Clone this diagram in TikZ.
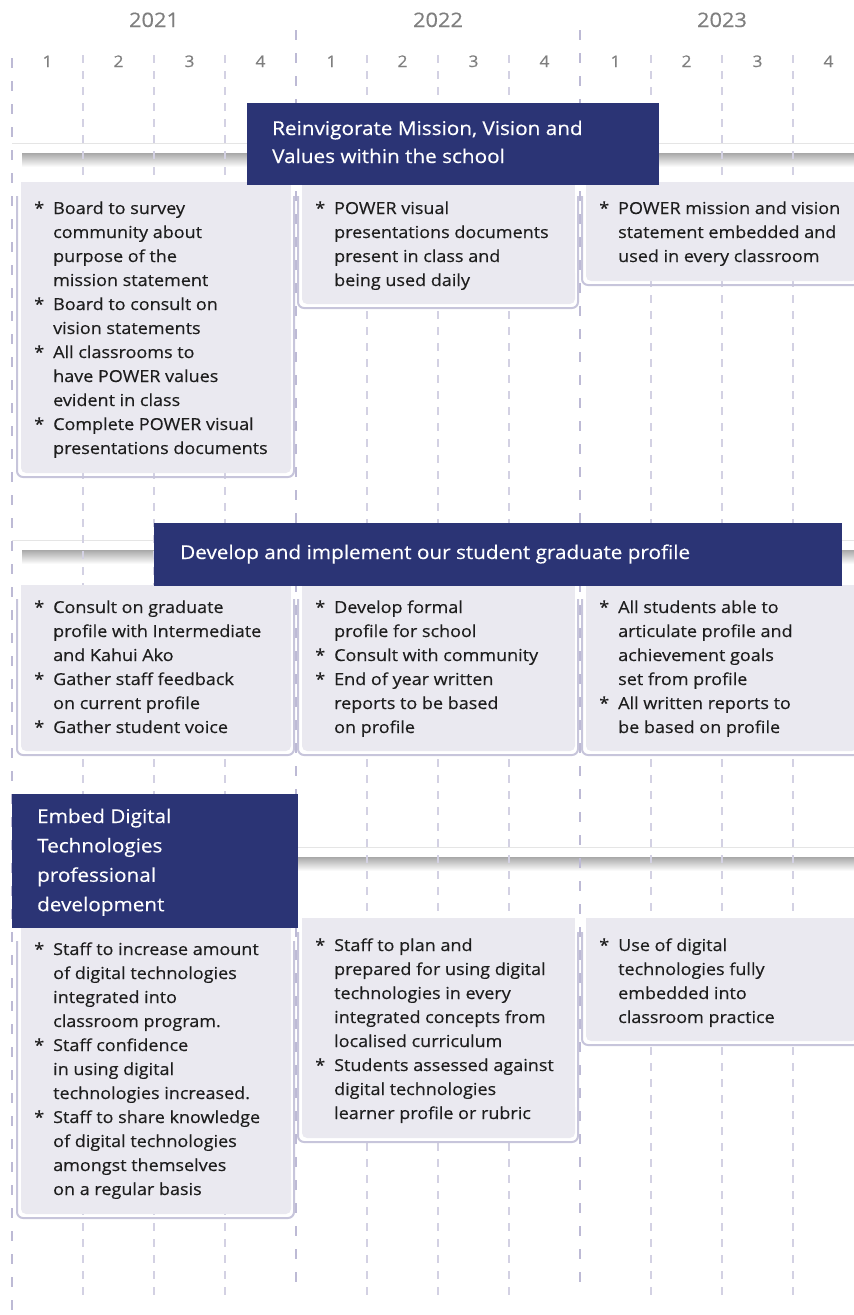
\documentclass[tikz,border=0pt]{standalone}
\usepackage{fontspec}
\setmainfont[FakeStretch=1.09, FakeBold=0.35]{Open Sans}
\definecolor{navy}{HTML}{2B3475}
\definecolor{boxfill}{HTML}{EAE9F0}
\definecolor{boxline}{HTML}{C7C5DB}
\definecolor{minordash}{HTML}{D3D1E3}
\definecolor{majordash}{HTML}{BDBAD5}
\definecolor{hdr}{HTML}{7F7F7F}
\definecolor{txt}{HTML}{1E1E1E}
\newcommand{\bul}{\llap{*\hspace{9pt}}}
\tikzset{
  yeartxt/.style={text=hdr, font=\fontsize{20}{24}\selectfont, inner sep=0, anchor=base},
  qtxt/.style={text=hdr, font=\fontsize{16}{20}\selectfont, inner sep=0, anchor=base},
  itemline/.style={anchor=base west, inner sep=0, text=txt, font=\fontsize{16.5}{24}\selectfont},
  ttl/.style={anchor=base west, inner sep=0, text=white, font=\fontsize{19}{28}\selectfont},
  titlebox/.style={fill=navy},
  minorline/.style={draw=minordash, line width=1.2pt, dash pattern=on 8pt off 8pt},
  majorline/.style={draw=majordash, line width=1.5pt, dash pattern=on 10pt off 13pt},
  bline/.style={draw=boxline, line width=2pt, rounded corners=6pt},
}
\newcommand{\tlbox}[4]{%
  \fill[boxfill] (#1+4,#2) rectangle (#3-3,#4-30);
  \fill[boxfill, rounded corners=5pt] (#1+4,#4-40) rectangle (#3-3,#4-4);
  \draw[bline] (#1,#2+14) -- (#1,#4) -- (#3,#4) -- (#3,#2+14);
}
\newcommand{\band}[3]{%
  \shade[top color=black!34, bottom color=white] (#1+10,#3+10) rectangle (#2,#3+24);
  \fill[white] (#1,#3) rectangle (#2,#3+10);
  \draw[black!10, line width=0.8pt] (#1,#3) -- (#2,#3);
}
\begin{document}
\begin{tikzpicture}[x=1pt, y=-1pt]
\useasboundingbox (0,0) rectangle (854,1315);
% bands
\band{12}{854}{143}
\band{12}{854}{540}
\band{12}{854}{847}
% grid lines
\foreach \k in {1,2,3,5,6,7,9,10,11}
  \draw[minorline] (12+71*\k,55) -- (12+71*\k,1297);
\draw[majorline] (12,58) -- (12,1315);
\draw[majorline] (296,30) -- (296,1290);
\draw[majorline] (580,30) -- (580,1290);
% headers
\node[yeartxt] (y2021) at (154,27) {2021};
\node[yeartxt] (y2022) at (438,27) {2022};
\node[yeartxt] (y2023) at (722,27) {2023};
\foreach \q [count=\i from 0] in {1,2,3,4,1,2,3,4,1,2,3,4}
  \node[qtxt] (q\i) at (47.5+71*\i,67) {\q};
% boxes
\tlbox{17}{182}{294}{477}
\tlbox{298}{182}{578}{308}
\tlbox{582}{182}{860}{285}
\tlbox{17}{585}{294}{755}
\tlbox{298}{585}{578}{755}
\tlbox{582}{585}{860}{755}
\tlbox{17}{927}{294}{1218}
\tlbox{298}{918}{578}{1142}
\tlbox{582}{918}{860}{1045}
% title boxes
\fill[titlebox] (247,103) rectangle (659,185);
\node[ttl] (t1a) at (272,135) {Reinvigorate Mission, Vision and};
\node[ttl] (t1b) at (272,163) {Values within the school};
\fill[titlebox] (154,523) rectangle (842,586);
\node[ttl] (t2a) at (180,559) {Develop and implement our student graduate profile};
\fill[titlebox] (12,794) rectangle (298,928);
\foreach \t [count=\i from 0] in {Embed Digital,Technologies,professional,development}
  \node[ttl] (t3\i) at (37,823+29.4*\i) {\t};
% row 1
\foreach \t [count=\i from 0] in {\bul Board to survey, community about, purpose of the, mission statement, \bul Board to consult on, vision statements, \bul All classrooms to, have POWER values, evident in class, \bul Complete POWER visual, presentations documents}
  \node[itemline] (ra\i) at (53,214+24*\i) {\t};
\foreach \t [count=\i from 0] in {\bul POWER visual, presentations documents, present in class and, being used daily}
  \node[itemline] (rb\i) at (334,214+24*\i) {\t};
\foreach \t [count=\i from 0] in {\bul POWER mission and vision, statement embedded and, used in every classroom}
  \node[itemline] (rc\i) at (618,214+24*\i) {\t};
% row 2
\foreach \t [count=\i from 0] in {\bul Consult on graduate, profile with Intermediate, and Kahui Ako, \bul Gather staff feedback, on current profile, \bul Gather student voice}
  \node[itemline] (sa\i) at (53,613+24*\i) {\t};
\foreach \t [count=\i from 0] in {\bul Develop formal, profile for school, \bul Consult with community, \bul End of year written, reports to be based, on profile}
  \node[itemline] (sb\i) at (334,613+24*\i) {\t};
\foreach \t [count=\i from 0] in {\bul All students able to, articulate profile and, achievement goals, set from profile, \bul All written reports to, be based on profile}
  \node[itemline] (sc\i) at (618,613+24*\i) {\t};
% row 3
\foreach \t [count=\i from 0] in {\bul Staff to increase amount, of digital technologies, integrated into, classroom program., \bul Staff confidence, in using digital, technologies increased., \bul Staff to share knowledge, of digital technologies, amongst themselves, on a regular basis}
  \node[itemline] (ua\i) at (53,955+24*\i) {\t};
\foreach \t [count=\i from 0] in {\bul Staff to plan and, prepared for using digital, technologies in every, integrated concepts from, localised curriculum, \bul Students assessed against, digital technologies, learner profile or rubric}
  \node[itemline] (ub\i) at (334,951+24*\i) {\t};
\foreach \t [count=\i from 0] in {\bul Use of digital, technologies fully, embedded into, classroom practice}
  \node[itemline] (uc\i) at (618,951+24*\i) {\t};
\end{tikzpicture}
\end{document}
